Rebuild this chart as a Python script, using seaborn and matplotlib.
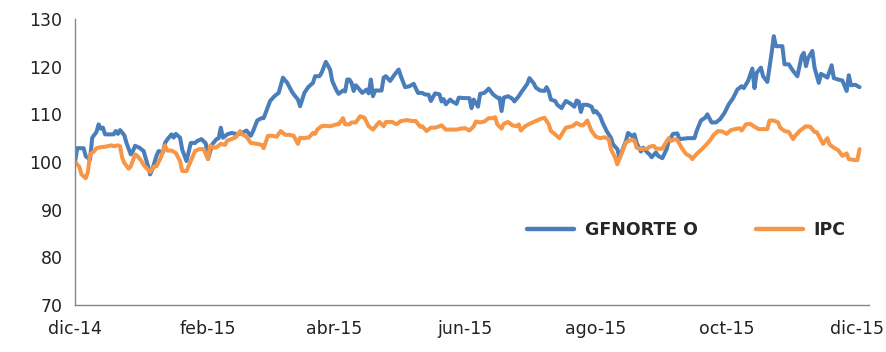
import pandas as pd
import matplotlib
matplotlib.use("Agg")
import matplotlib.pyplot as plt
import seaborn as sns

# ==============================================================================
# DATOS (base 100 = 1-dic-2014)
# ==============================================================================
START = pd.Timestamp("2014-12-01")

gfnorte_days = [0, 1, 4, 5, 7, 8, 10, 11, 12, 13, 14, 16, 18, 19, 20, 21, 23, 24, 26, 27,
                28, 30, 32, 34, 35, 36, 38, 39, 41, 42, 43, 45, 46, 47, 49, 50, 52, 54, 56, 57,
                59, 61, 62, 64, 66, 67, 68, 69, 71, 73, 76, 78, 80, 82, 83, 85, 87, 88, 91, 93,
                95, 97, 99, 101, 102, 104, 105, 107, 108, 109, 111, 112, 114, 115, 117, 119, 120, 122, 123, 125,
                126, 127, 128, 129, 130, 131, 132, 134, 136, 137, 138, 139, 140, 141, 143, 144, 145, 147, 149, 151,
                152, 154, 156, 158, 160, 162, 163, 165, 166, 168, 170, 171, 172, 173, 175, 176, 178, 179, 182, 184,
                185, 186, 188, 189, 191, 193, 195, 197, 198, 199, 200, 202, 204, 205, 207, 208, 211, 212, 214, 215,
                217, 219, 220, 221, 222, 224, 225, 227, 228, 229, 231, 233, 234, 235, 236, 237, 239, 241, 242, 243,
                245, 246, 248, 250, 251, 253, 254, 255, 257, 258, 260, 261, 262, 264, 265, 267, 268, 269, 271, 272,
                274, 276, 277, 279, 281, 282, 284, 286, 289, 290, 292, 294, 295, 297, 299, 301, 303, 305, 307, 309,
                311, 312, 314, 316, 317, 318, 320, 321, 323, 325, 326, 327, 330, 331, 333, 335, 337, 339, 340, 341,
                342, 344, 345, 347, 348, 350, 351, 353, 354, 356, 358, 360, 361, 362, 364, 366]
gfnorte_vals = [100.0, 102.9, 102.9, 101.2, 100.5, 105.1, 106.3, 107.9, 107.0, 107.2, 105.8, 105.8, 105.8, 106.5, 105.9, 106.7, 105.6, 104.0, 101.6, 102.3,
                103.4, 103.0, 102.3, 99.2, 97.4, 98.4, 101.3, 102.3, 102.0, 104.0, 104.7, 105.8, 105.1, 105.9, 105.1, 102.6, 100.2, 104.0, 104.0, 104.4,
                104.8, 103.9, 100.6, 103.7, 104.8, 105.0, 107.2, 105.1, 105.8, 106.1, 105.8, 106.1, 106.6, 105.5, 106.4, 108.7, 109.2, 109.2, 112.8, 113.8,
                114.5, 117.7, 116.6, 114.9, 114.2, 113.1, 111.7, 114.5, 115.2, 115.8, 116.6, 118.0, 118.0, 118.7, 121.0, 119.4, 117.0, 115.0, 114.3, 115.0,
                114.8, 117.3, 117.3, 116.6, 114.9, 116.1, 115.6, 114.5, 115.2, 114.4, 117.3, 113.8, 115.0, 115.0, 115.0, 117.7, 118.0, 117.0, 118.3, 119.4,
                118.0, 115.7, 115.9, 116.4, 114.5, 114.5, 114.2, 114.1, 112.8, 114.4, 114.2, 112.7, 113.2, 112.1, 113.1, 112.7, 112.2, 113.5, 113.4, 113.4,
                111.3, 113.1, 111.6, 114.3, 114.5, 115.4, 114.2, 113.5, 113.5, 110.7, 113.5, 113.8, 113.3, 112.7, 113.8, 114.5, 116.4, 117.6, 116.5, 115.6,
                115.0, 114.9, 115.7, 114.8, 113.1, 112.8, 112.0, 111.3, 112.1, 112.8, 112.3, 111.6, 112.9, 112.7, 110.5, 112.0, 112.0, 111.6, 110.4, 110.7,
                109.6, 108.4, 106.5, 105.1, 103.7, 102.7, 100.9, 102.1, 104.4, 106.1, 105.4, 105.8, 104.0, 102.2, 103.0, 102.0, 101.6, 101.0, 102.0, 101.3,
                100.8, 102.7, 104.4, 105.9, 106.0, 104.8, 104.9, 105.0, 105.0, 106.5, 108.7, 109.3, 110.0, 108.3, 108.3, 109.0, 110.3, 112.1, 113.4, 115.2,
                115.9, 115.5, 117.0, 119.6, 115.5, 118.7, 119.8, 118.0, 116.8, 122.9, 126.4, 124.3, 124.3, 120.5, 120.5, 119.1, 118.0, 122.2, 122.9, 120.1,
                121.8, 123.3, 119.8, 116.6, 118.5, 118.0, 117.7, 120.3, 117.6, 117.3, 117.1, 114.9, 118.2, 116.1, 116.2, 115.7]

ipc_days = [0, 2, 3, 5, 6, 7, 9, 10, 12, 14, 17, 18, 20, 21, 22, 23, 25, 26, 28, 29,
            31, 32, 34, 35, 37, 38, 40, 42, 43, 45, 47, 49, 50, 52, 54, 56, 58, 60, 62, 63,
            65, 66, 68, 70, 71, 73, 75, 77, 78, 80, 82, 85, 87, 88, 90, 92, 94, 96, 98, 100,
            102, 104, 105, 107, 108, 109, 111, 112, 113, 115, 116, 119, 122, 123, 125, 126, 128, 129, 131, 133,
            135, 136, 137, 139, 141, 142, 144, 145, 148, 150, 152, 155, 157, 159, 161, 162, 164, 166, 168, 170,
            171, 173, 176, 178, 180, 182, 184, 186, 187, 189, 191, 193, 195, 196, 197, 199, 200, 202, 204, 206,
            207, 208, 210, 212, 215, 217, 219, 221, 222, 224, 226, 228, 229, 232, 234, 236, 237, 239, 241, 243,
            245, 247, 249, 250, 252, 253, 255, 257, 259, 261, 262, 264, 267, 268, 270, 271, 274, 275, 277, 278,
            280, 281, 283, 285, 287, 288, 290, 292, 294, 296, 298, 300, 302, 304, 306, 308, 310, 311, 313, 315,
            317, 319, 321, 323, 324, 326, 328, 329, 331, 333, 335, 336, 338, 341, 343, 345, 346, 347, 349, 351,
            352, 354, 356, 358, 360, 361, 364, 365, 366]
ipc_vals = [100.0, 99.0, 97.4, 96.6, 97.9, 101.6, 102.3, 102.9, 103.1, 103.2, 103.5, 103.3, 103.5, 103.3, 100.9, 99.8, 98.6, 99.1, 101.6, 101.3,
            100.2, 99.4, 98.4, 97.9, 99.1, 99.1, 100.9, 103.5, 102.4, 102.4, 101.9, 100.2, 98.1, 98.1, 100.2, 102.3, 102.7, 102.7, 100.6, 103.4,
            103.0, 103.1, 103.8, 103.6, 104.5, 104.8, 105.2, 106.5, 105.8, 105.3, 104.0, 103.8, 103.6, 102.9, 105.5, 105.5, 105.3, 106.5, 105.7, 105.7,
            105.5, 103.8, 105.1, 105.0, 105.1, 105.1, 106.1, 105.9, 106.8, 107.5, 107.6, 107.5, 107.9, 107.9, 109.2, 107.9, 107.9, 108.3, 108.3, 109.6,
            109.3, 108.4, 107.5, 106.8, 107.9, 108.4, 107.5, 108.4, 108.4, 107.9, 108.6, 108.8, 108.6, 108.6, 107.4, 107.5, 106.5, 107.2, 107.2, 107.5,
            107.7, 106.8, 106.8, 106.8, 107.0, 107.1, 106.6, 107.5, 108.5, 108.3, 108.5, 109.2, 109.2, 109.4, 107.9, 107.0, 108.0, 108.4, 107.7, 107.5,
            107.9, 106.6, 107.5, 108.0, 108.6, 109.0, 109.3, 107.9, 106.5, 105.8, 105.0, 106.5, 107.2, 107.5, 108.2, 107.7, 107.7, 108.7, 106.5, 105.3,
            105.0, 105.2, 104.8, 102.7, 100.9, 99.5, 101.8, 104.1, 104.6, 104.5, 103.0, 102.7, 102.8, 103.2, 103.4, 102.8, 102.8, 103.6, 105.0, 104.4,
            104.8, 104.6, 103.0, 101.7, 101.2, 100.6, 101.7, 102.5, 103.4, 104.4, 105.7, 106.5, 106.4, 105.9, 106.7, 106.9, 107.1, 106.6, 107.9, 108.0,
            107.4, 106.9, 106.9, 106.9, 108.7, 108.7, 108.3, 107.2, 106.5, 106.3, 104.8, 105.5, 106.5, 107.5, 107.4, 106.3, 106.3, 105.5, 103.8, 105.0,
            103.7, 103.0, 102.5, 101.3, 101.8, 100.6, 100.4, 100.4, 102.7]

series_names = ["GFNORTE O", "IPC"]
series_colors = ["#4A7EBB", "#F79646"]

tick_dates = ["2014-12-01", "2015-02-01", "2015-04-01", "2015-06-01",
              "2015-08-01", "2015-10-01", "2015-12-01"]
tick_labels = ["dic-14", "feb-15", "abr-15", "jun-15", "ago-15", "oct-15", "dic-15"]
y_ticks = [70, 80, 90, 100, 110, 120, 130]

# ==============================================================================
# ESTILO
# ==============================================================================
sns.set_style("white")
plt.rcParams["font.family"] = ["Liberation Sans Narrow", "DejaVu Sans"]

df = pd.concat([
    pd.DataFrame({"Fecha": START + pd.to_timedelta(gfnorte_days, unit="D"),
                  "Valor": gfnorte_vals, "Serie": series_names[0]}),
    pd.DataFrame({"Fecha": START + pd.to_timedelta(ipc_days, unit="D"),
                  "Valor": ipc_vals, "Serie": series_names[1]}),
], ignore_index=True)

fig = plt.figure(figsize=(8.86, 3.52), dpi=100)
ax = fig.add_axes([0.0847, 0.1335, 0.8963, 0.8125])

sns.lineplot(data=df, x="Fecha", y="Valor", hue="Serie", hue_order=series_names,
             palette=dict(zip(series_names, series_colors)), linewidth=2.9, ax=ax)

ax.set_ylim(70, 130)
ax.set_yticks(y_ticks)
ax.set_xlim(START, START + pd.Timedelta(days=370.5))
ax.set_xticks(pd.to_datetime(tick_dates))
ax.set_xticklabels(tick_labels)
ax.set_xlabel("")
ax.set_ylabel("")

for side in ["top", "right"]:
    ax.spines[side].set_visible(False)
for side in ["left", "bottom"]:
    ax.spines[side].set_color("#868686")
    ax.spines[side].set_linewidth(1.0)
ax.tick_params(axis="both", which="major", direction="out", length=5, width=1,
               color="#868686", labelsize=12.5, labelcolor="#222222")
ax.tick_params(axis="x", pad=6)
ax.tick_params(axis="y", pad=4)
ax.grid(False)

handles, labels = ax.get_legend_handles_labels()
for h in handles:
    h.set_linewidth(3.2)
ax.legend(handles, labels, loc="center", bbox_to_anchor=(0.77, 0.262), ncol=2,
          frameon=False, handlelength=2.7, handletextpad=0.6, columnspacing=3.4,
          prop={"weight": "bold", "size": 12.5, "family": ["DejaVu Sans"]})

plt.savefig("out.png", dpi=100)
